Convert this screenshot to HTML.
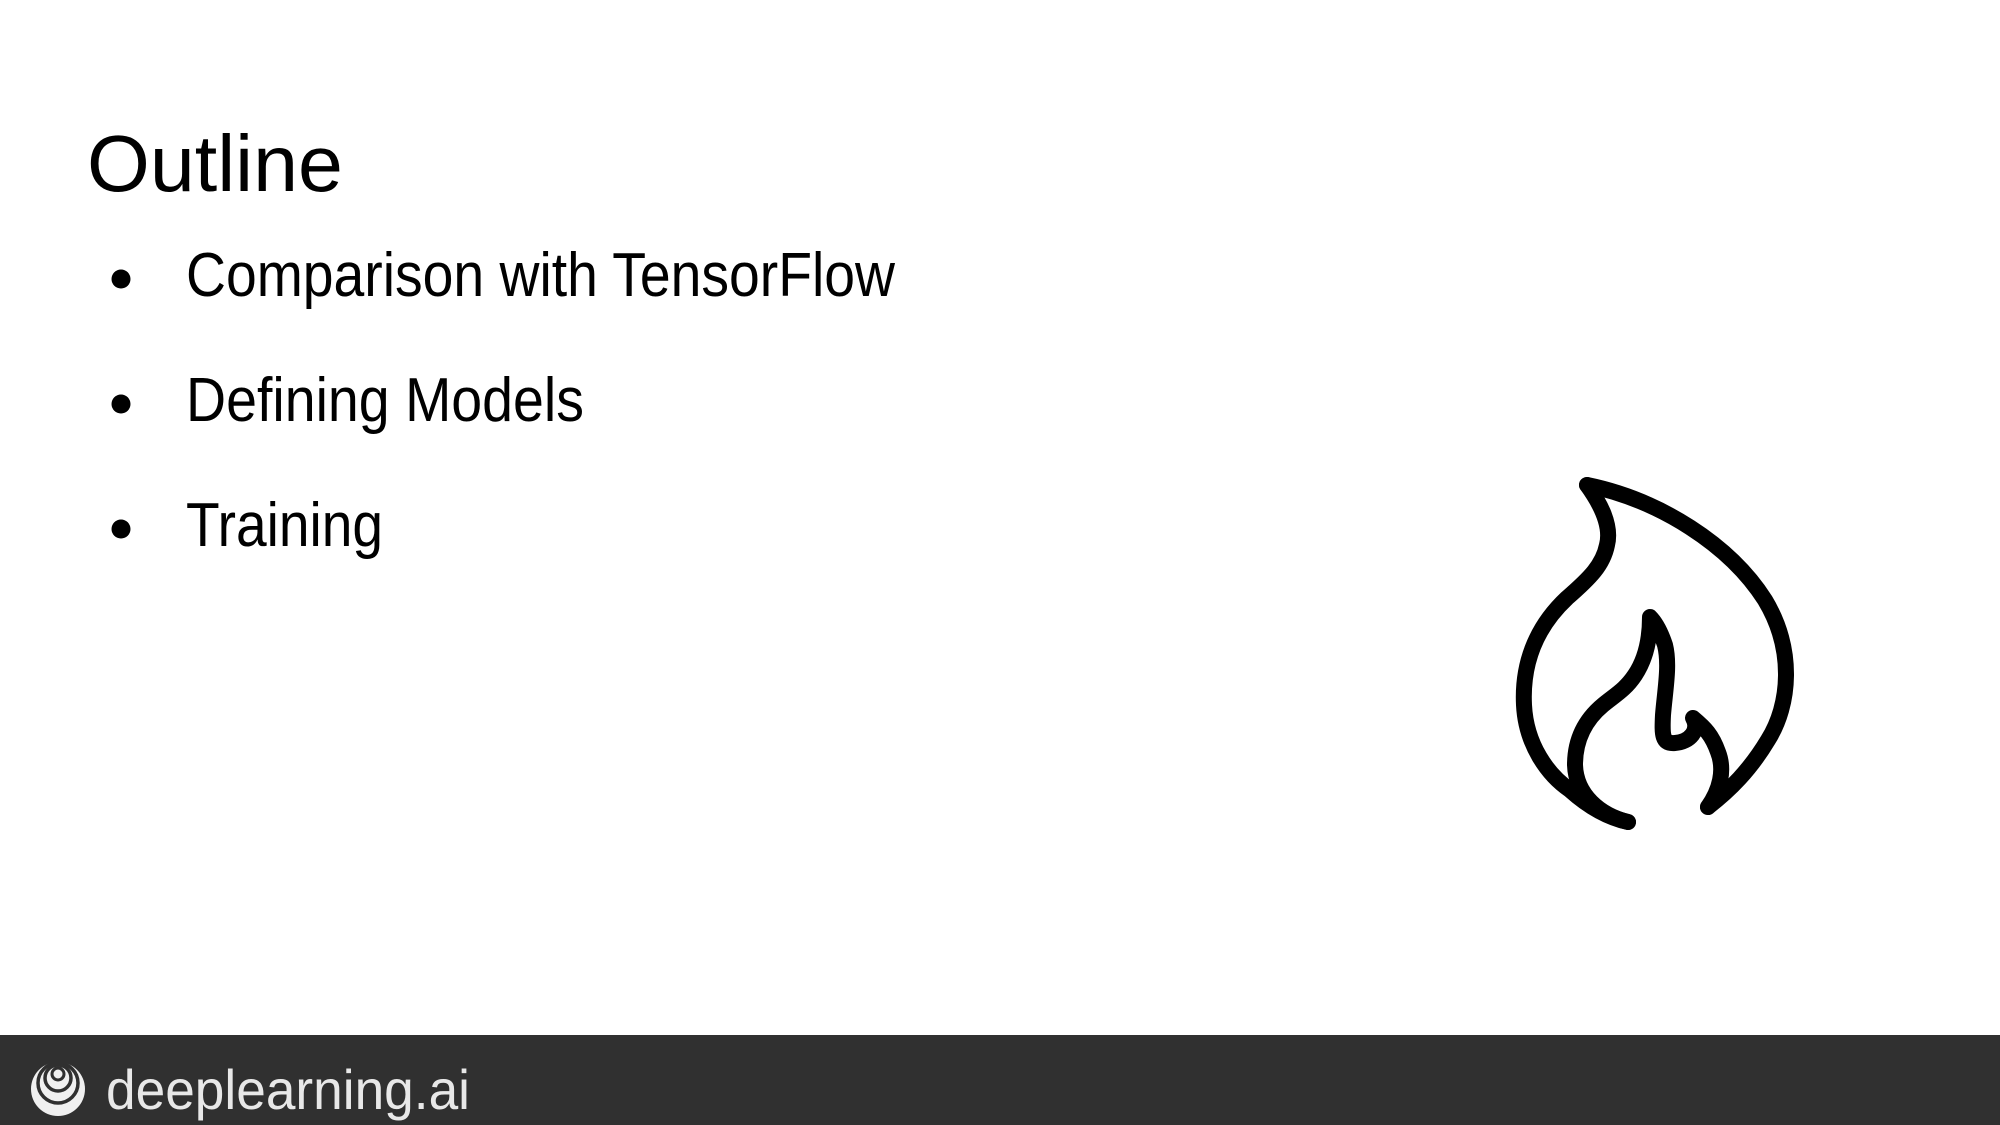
<!DOCTYPE html>
<html><head><meta charset="utf-8"><style>
html,body{margin:0;padding:0;background:#fff;}
svg{display:block;}
</style></head><body>
<svg width="2000" height="1125" viewBox="0 0 2000 1125" xmlns="http://www.w3.org/2000/svg">
<rect width="2000" height="1125" fill="#fff"/>
<text x="87" y="191" font-family="Liberation Sans, sans-serif" font-size="80" fill="#000" textLength="256" lengthAdjust="spacingAndGlyphs">Outline</text>
<circle cx="121" cy="279" r="9.5" fill="#000"/>
<circle cx="121" cy="404" r="9.5" fill="#000"/>
<circle cx="121" cy="529" r="9.5" fill="#000"/>
<g font-family="Liberation Sans, sans-serif" font-size="62" fill="#000">
<text x="186" y="296" textLength="709" lengthAdjust="spacingAndGlyphs">Comparison with TensorFlow</text>
<text x="186" y="421" textLength="398" lengthAdjust="spacingAndGlyphs">Defining Models</text>
<text x="186" y="546" textLength="197" lengthAdjust="spacingAndGlyphs">Training</text>
</g>
<g fill="none" stroke="#000" stroke-width="16" stroke-linecap="round" stroke-linejoin="round">
<path d="M1587,485 C1600,503 1612,525 1607,545 C1603,565 1590,578 1567,598 C1535,628 1522,665 1524,705 C1526,745 1548,775 1570,790 C1590,808 1610,818 1628,822"/>
<path d="M1587,485 C1660,500 1730,545 1765,600 C1795,650 1790,705 1768,740 C1750,770 1730,790 1708,807"/>
<path d="M1708,807 C1720,790 1725,770 1718,752 C1712,735 1705,728 1693,718 C1700,730 1690,742 1675,743 C1662,744 1662,735 1663,715 C1665,690 1670,665 1665,645 C1660,630 1655,622 1650,617 C1650,640 1645,660 1635,675 C1625,690 1615,695 1603,705 C1585,720 1575,740 1575,765 C1576,795 1600,815 1628,822"/>
</g>
<rect x="0" y="1035" width="2000" height="90" fill="#303030"/>
<circle cx="58" cy="1089" r="27" fill="#f0f0f0"/>
<circle cx="58" cy="1083" r="20" fill="none" stroke="#303030" stroke-width="3.5"/>
<circle cx="58" cy="1078" r="13" fill="none" stroke="#303030" stroke-width="3.5"/>
<circle cx="58" cy="1074" r="6" fill="none" stroke="#303030" stroke-width="3"/>
<text x="106" y="1109" font-family="Liberation Sans, sans-serif" font-size="56" fill="#e8e8e8" textLength="364" lengthAdjust="spacingAndGlyphs">deeplearning.ai</text>
</svg>
</body></html>
